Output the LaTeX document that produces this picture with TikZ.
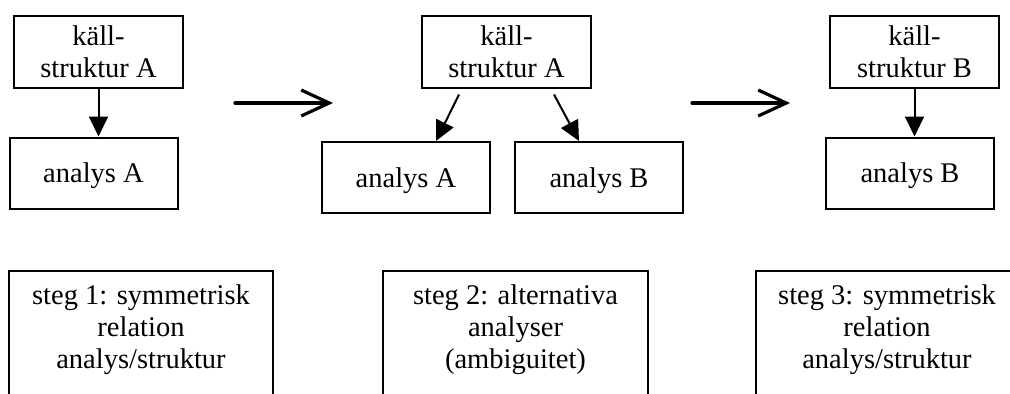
\documentclass[tikz,border=0pt]{standalone}
\usepackage{fontspec}
\setmainfont{Liberation Serif}
\usetikzlibrary{arrows.meta, positioning}

\begin{document}
\begin{tikzpicture}[
    x=0.5pt, y=-0.5pt,
    every node/.style={font=\fontsize{14.25}{16}\selectfont},
    kalla/.style={draw, line width=1pt, align=center, inner sep=2pt,
                  minimum width=84.5pt, minimum height=36pt},
    analys/.style={draw, line width=1pt, align=center, text depth=0pt,
                   minimum width=84pt, minimum height=35.5pt},
    steg/.style={align=center, inner sep=0pt,
                 minimum width=132pt, minimum height=59pt},
    ram/.style={line width=1pt},
    pil/.style={-{Triangle[length=10pt, width=9.5pt]}, line width=1pt},
    stor/.style={-{Straight Barb[length=14pt, width=13pt]}, line width=1.6pt, line cap=round}
]
\useasboundingbox (0,0) rectangle (1010,393);
\clip (0,0) rectangle (1010,393);

% steg 1
\node[kalla] (kalla1) at (98.5,51.5) {käll-\\struktur A};
\node[analys, below=24pt of kalla1, xshift=-2.5pt] (anaA1) {analys A};

% steg 2
\node[kalla] (kalla2) at (506.5,51.5) {käll-\\struktur A};
\node[analys] (anaA2) at (406,177.5) {analys A};
\node[analys, right=11.5pt of anaA2] (anaB2) {analys B};

% steg 3
\node[kalla] (kalla3) at (914.5,51.5) {käll-\\struktur B};
\node[analys, below=24pt of kalla3, xshift=-2.25pt] (anaB3) {analys B};

\draw[pil] (kalla1.south) -- (kalla1.south |- anaA1.north);
\draw[pil] ([xshift=-23.75pt, yshift=-3pt]kalla2.south) -- ([xshift=15pt]anaA2.north);
\draw[pil] ([xshift=23.75pt, yshift=-3pt]kalla2.south) -- ([xshift=-10pt]anaB2.north);
\draw[pil] (kalla3.south) -- (kalla3.south |- anaB3.north);

% stora pilar
\coordinate (pil1a) at (235,103);
\coordinate (pil1b) at (333,103);
\coordinate (pil2a) at (692,103);
\coordinate (pil2b) at (790,103);
\draw[stor] (pil1a) -- (pil1b);
\draw[stor] (pil2a) -- (pil2b);

% beskrivningar
\node[steg] (steg1) at (141,330) {steg 1: symmetrisk\\relation\\analys/struktur};
\node[steg, minimum width=132.5pt] (steg2) at (515.5,330) {steg 2: alternativa\\analyser\\(ambiguitet)};
\node[steg, minimum width=131pt] (steg3) at (887,330) {steg 3: symmetrisk\\relation\\analys/struktur};
\foreach \s in {steg1, steg2, steg3}
  \draw[ram] ([yshift=-20pt]\s.south west) |- (\s.north east) -- ([yshift=-20pt]\s.south east);

\end{tikzpicture}
\end{document}
